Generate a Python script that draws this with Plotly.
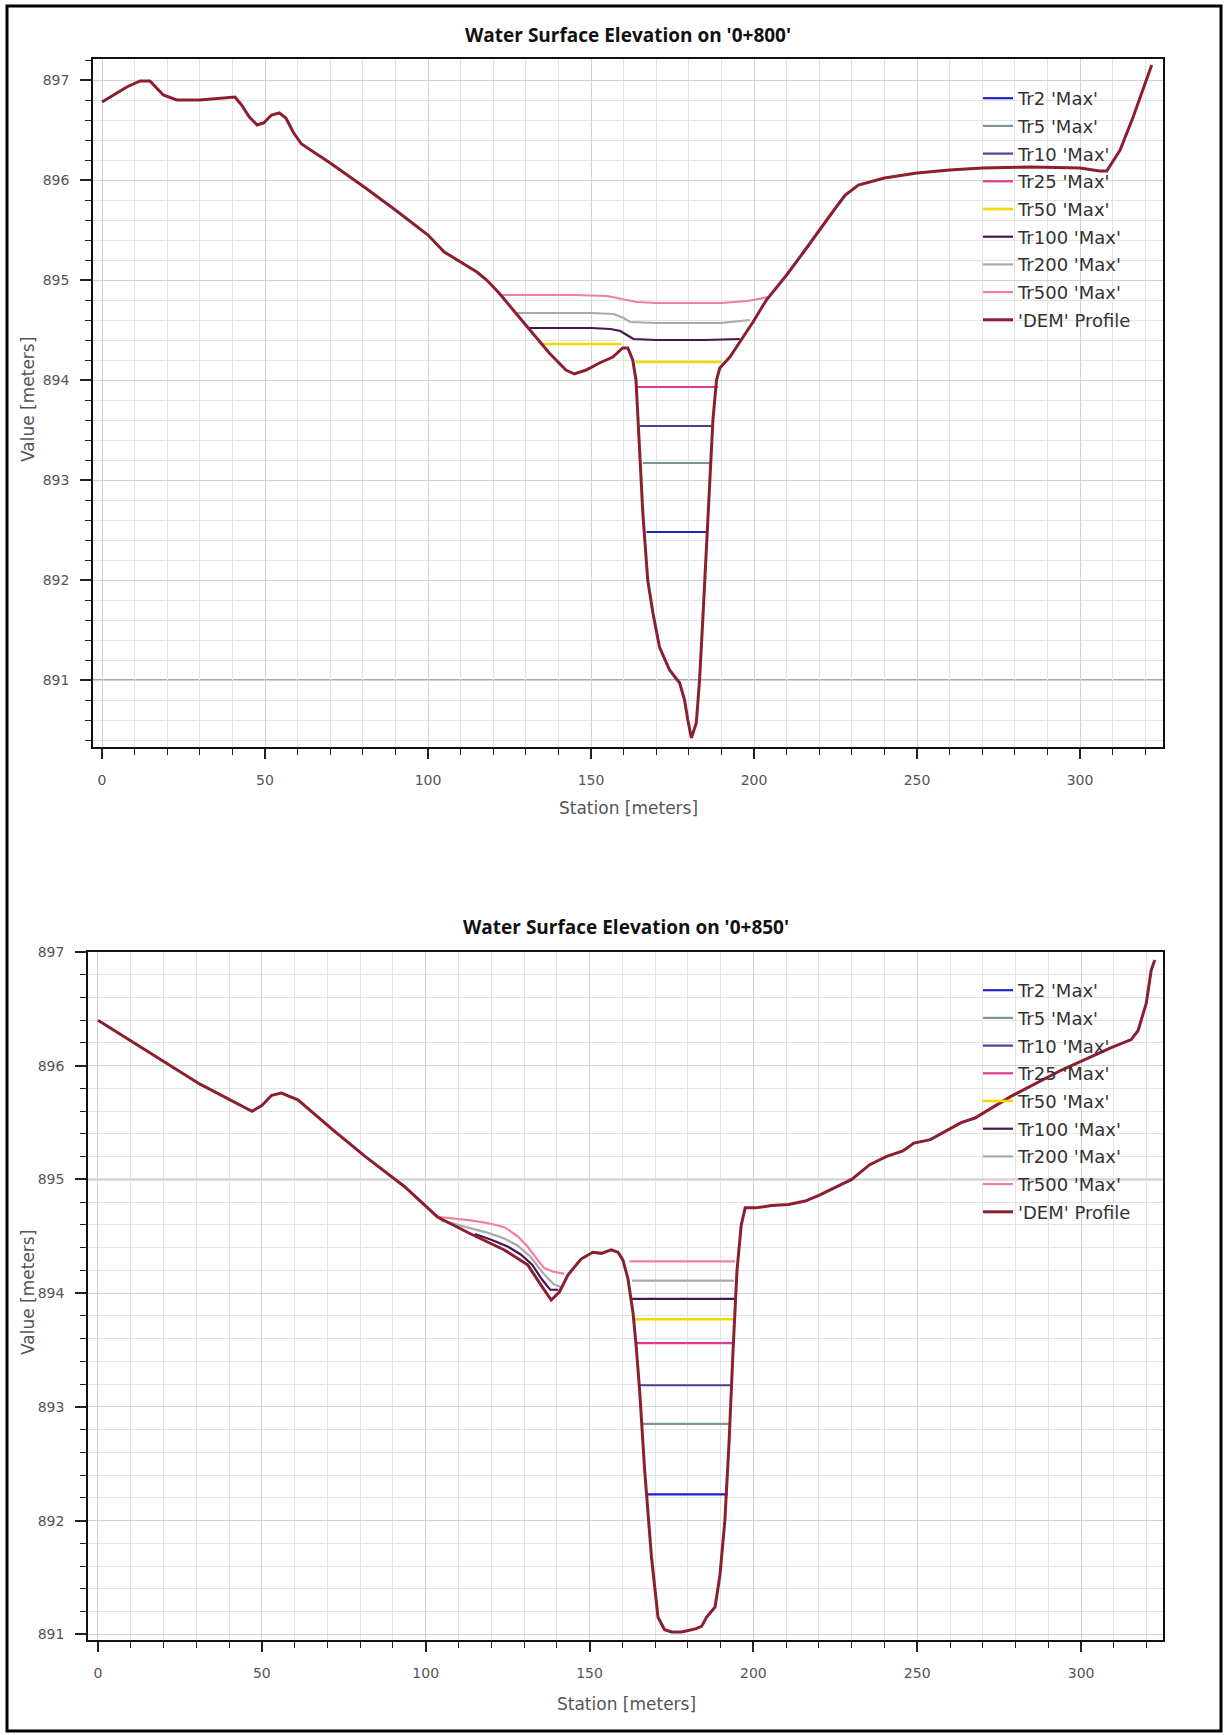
import plotly.graph_objects as go

W, H = 1224, 1735

# ---------------- data ----------------
SERIES = ["Tr2 'Max'", "Tr5 'Max'", "Tr10 'Max'", "Tr25 'Max'", "Tr50 'Max'",
          "Tr100 'Max'", "Tr200 'Max'", "Tr500 'Max'", "'DEM' Profile"]
COLORS = ["#1f22c4", "#7a949c", "#4d4190", "#dc3b8e", "#f2d800",
          "#4a1450", "#a9a9a9", "#f27ea3", "#8b1f2f"]
WIDTHS = [2.2, 2.2, 2.2, 2.2, 2.6, 2.2, 2.2, 2.2, 3]

# Section 0+800
TOP_DEM_S = [0, 4, 7.6, 11.7, 14.7, 18.8, 22.9, 30, 36.7, 40.8, 42.8, 45.2, 47.6, 49.6, 52, 54.4,
             56.4, 58.8, 61.2, 70, 80, 90, 100, 105, 110, 115, 118, 121.8, 126.9, 132, 137.2,
             142.3, 144.9, 148.5, 152.6, 156.7, 159.7, 161.3, 162.8, 163.8, 164.9, 165.9, 167.4,
             169, 171, 174.1, 177.2, 178.7, 179.7, 180.8, 182.3, 183.3, 184.4, 185.4, 186.4,
             187.4, 188.5, 189.5, 192.6, 195.6, 199.7, 203.8, 210, 215, 220, 225, 228, 232, 240,
             250, 260, 270, 285, 300, 306, 308.2, 312.3, 316.3, 322]
TOP_DEM_Z = [896.78, 896.86, 896.93, 896.99, 896.99, 896.85, 896.80, 896.80, 896.82, 896.83,
             896.75, 896.63, 896.55, 896.57, 896.65, 896.67, 896.62, 896.47, 896.36, 896.17,
             895.94, 895.70, 895.45, 895.28, 895.18, 895.08, 895.00, 894.87, 894.67, 894.47,
             894.27, 894.10, 894.06, 894.10, 894.17, 894.23, 894.32, 894.32, 894.20, 894.00,
             893.33, 892.67, 892.00, 891.67, 891.33, 891.10, 890.97, 890.80, 890.60, 890.42,
             890.57, 891.00, 891.67, 892.33, 893.00, 893.60, 894.00, 894.12, 894.23, 894.38,
             894.58, 894.80, 895.05, 895.27, 895.50, 895.72, 895.85, 895.95, 896.02, 896.07,
             896.10, 896.12, 896.13, 896.12, 896.09, 896.09, 896.30, 896.63, 897.15]

TOP_WSE_S = {
    "Tr2 'Max'": [167.0, 185.9],
    "Tr5 'Max'": [165.9, 186.4],
    "Tr10 'Max'": [164.9, 187.4],
    "Tr25 'Max'": [164.1, 189.0],
    "Tr50 'Max'": [135.0, 159.3, None, 163.8, 190.0],
    "Tr100 'Max'": [130.5, 150, 156, 159, 161.5, 163, 170, 185, 195.6],
    "Tr200 'Max'": [127.0, 150, 157, 160, 162, 170, 190, 198.7],
    "Tr500 'Max'": [122.3, 145, 155, 160, 164, 170, 190, 198, 204.4],
}
TOP_WSE_Z = {
    "Tr2 'Max'": [892.48, 892.48],
    "Tr5 'Max'": [893.17, 893.17],
    "Tr10 'Max'": [893.54, 893.54],
    "Tr25 'Max'": [893.93, 893.93],
    "Tr50 'Max'": [894.36, 894.36, None, 894.18, 894.18],
    "Tr100 'Max'": [894.52, 894.52, 894.51, 894.49, 894.44, 894.41, 894.40, 894.40, 894.41],
    "Tr200 'Max'": [894.67, 894.67, 894.66, 894.62, 894.58, 894.57, 894.57, 894.60],
    "Tr500 'Max'": [894.85, 894.85, 894.84, 894.81, 894.78, 894.77, 894.77, 894.79, 894.83],
}

# Section 0+850
BOT_DEM_S = [0, 31, 47, 50, 53, 56, 61, 71.5, 81.6, 93.4, 103.6, 113.8, 124, 131.1, 135.2, 138.3,
             140.8, 143.4, 147.4, 151, 153.6, 156.6, 158.7, 160.2, 161.7, 163.3, 164.3, 165.3,
             166.8, 168.9, 170.9, 172.9, 175, 178.1, 181.1, 182.5, 184.2, 185.7, 188.3, 189.8,
             191.3, 192.6, 193.8, 195.0, 196.3, 197.5, 200.5, 205.6, 210.7, 215.8, 220, 225, 230,
             235.5, 240.5, 245.6, 249, 254, 263.4, 267.6, 278.6, 293.9, 309.2, 315.3, 317.4,
             319.9, 321.4, 322.5]
BOT_DEM_Z = [896.40, 895.84, 895.60, 895.65, 895.74, 895.76, 895.70, 895.44, 895.20, 894.94,
             894.67, 894.52, 894.38, 894.25, 894.07, 893.94, 894.01, 894.16, 894.30, 894.36,
             894.35, 894.38, 894.36, 894.29, 894.13, 893.82, 893.51, 893.14, 892.45, 891.68,
             891.15, 891.04, 891.02, 891.02, 891.04, 891.05, 891.07, 891.15, 891.24, 891.52,
             892.00, 892.70, 893.50, 894.20, 894.60, 894.75, 894.75, 894.77, 894.78, 894.81,
             894.86, 894.93, 895.00, 895.13, 895.20, 895.25, 895.32, 895.35, 895.50, 895.54,
             895.73, 895.96, 896.16, 896.23, 896.31, 896.55, 896.84, 896.93]

BOT_WSE_S = {
    "Tr2 'Max'": [167.3, 192.2],
    "Tr5 'Max'": [166.3, 192.5],
    "Tr10 'Max'": [165.3, 193.3],
    "Tr25 'Max'": [164.3, 194.0],
    "Tr50 'Max'": [163.3, 194.6],
    "Tr100 'Max'": [115, 120, 125, 129, 132.5, 135.5, 138, 140.5, None, 162.6, 194.8],
    "Tr200 'Max'": [104.6, 112, 119, 124, 128, 132, 136, 139, 141.5, None, 163.0, 194.2],
    "Tr500 'Max'": [104, 113.8, 119.9, 124, 128.1, 131.1, 134.2, 136.2, 138.8, 142.3, None,
                    162.2, 194.4],
}
BOT_WSE_Z = {
    "Tr2 'Max'": [892.23, 892.23],
    "Tr5 'Max'": [892.85, 892.85],
    "Tr10 'Max'": [893.19, 893.19],
    "Tr25 'Max'": [893.56, 893.56],
    "Tr50 'Max'": [893.77, 893.77],
    "Tr100 'Max'": [894.52, 894.47, 894.41, 894.34, 894.25, 894.12, 894.03, 894.03, None,
                    893.95, 893.95],
    "Tr200 'Max'": [894.64, 894.58, 894.53, 894.48, 894.42, 894.32, 894.17, 894.08, 894.05,
                    None, 894.11, 894.11],
    "Tr500 'Max'": [894.67, 894.64, 894.61, 894.58, 894.50, 894.41, 894.29, 894.22, 894.19,
                    894.17, None, 894.28, 894.28],
}

TITLES = ["Water Surface Elevation on '0+800'", "Water Surface Elevation on '0+850'"]
X_TITLE = "Station [meters]"
Y_TITLE = "Value [meters]"
REF_LINES = [891, 895]   # darker horizontal grid lines in each panel

# ---------------- figure ----------------
FONT = "DejaVu Sans, Verdana, sans-serif"
TFONT = "Open Sans, Noto Sans, sans-serif"
fig = go.Figure()

panels = [
    dict(xa="x", ya="y", leg="legend", dem_s=TOP_DEM_S, dem_z=TOP_DEM_Z, ws=TOP_WSE_S, wz=TOP_WSE_Z, tag="top"),
    dict(xa="x2", ya="y2", leg="legend2", dem_s=BOT_DEM_S, dem_z=BOT_DEM_Z, ws=BOT_WSE_S, wz=BOT_WSE_Z, tag="bot"),
]
for p in panels:
    for name, col, w in zip(SERIES, COLORS, WIDTHS):
        if name == "'DEM' Profile":
            xs, zs = p["dem_s"], p["dem_z"]
        else:
            xs, zs = p["ws"][name], p["wz"][name]
        fig.add_trace(go.Scatter(
            x=xs, y=zs, mode="lines", name=name, xaxis=p["xa"], yaxis=p["ya"],
            legend=p["leg"], legendgroup=p["tag"] + name,
            line=dict(color=col, width=w), connectgaps=False, showlegend=True))

def px_x(v):
    return v / W

def px_y(v):
    return 1 - v / H

tickfont = dict(family=FONT, size=14, color="#555555")

def xaxis_cfg(d0, d1, r0, r1, anchor):
    return dict(domain=[px_x(d0), px_x(d1)], range=[r0, r1], anchor=anchor, automargin=False,
                tick0=0, dtick=50, ticks="outside", ticklen=10, tickwidth=1.5, tickcolor="#222",
                showgrid=True, gridcolor="#d2d2d2", gridwidth=1,
                minor=dict(dtick=10, tick0=0, ticks="outside", ticklen=6, tickwidth=1.2,
                           tickcolor="#222", showgrid=True, gridcolor="#e3e3e3"),
                showline=True, linecolor="#111", linewidth=1.5, mirror=True,
                zeroline=False, tickfont=tickfont, ticklabelstandoff=9, fixedrange=True)

def yaxis_cfg(d0, d1, r0, r1, anchor):
    return dict(domain=[px_y(d1), px_y(d0)], range=[r0, r1], anchor=anchor, automargin=False,
                tick0=891, dtick=1, ticks="outside", ticklen=11, tickwidth=1.5, tickcolor="#222",
                showgrid=True, gridcolor="#d2d2d2", gridwidth=1,
                minor=dict(dtick=0.2, tick0=891, ticks="outside", ticklen=6, tickwidth=1.2,
                           tickcolor="#222", showgrid=True, gridcolor="#e3e3e3"),
                showline=True, linecolor="#111", linewidth=1.5, mirror=True,
                zeroline=False, tickfont=tickfont, ticklabelstandoff=8, fixedrange=True)

legfont = dict(family=FONT, size=18, color="#333333")

fig.update_layout(
    width=W, height=H, margin=dict(l=0, r=0, t=0, b=0, pad=0, autoexpand=False),
    paper_bgcolor="white", plot_bgcolor="white", showlegend=True,
    xaxis=xaxis_cfg(93, 1163, -2.76, 325.46, "y"),
    yaxis=yaxis_cfg(59, 747, 890.33, 897.21, "x"),
    xaxis2=xaxis_cfg(88, 1163, -3.05, 325.0, "y2"),
    yaxis2=yaxis_cfg(952, 1640, 890.95, 897.0, "x2"),
    legend=dict(x=px_x(978), y=px_y(80), xanchor="left", yanchor="top",
                bgcolor="rgba(0,0,0,0)", font=legfont, tracegroupgap=1.3, itemwidth=30,
                traceorder="grouped"),
    legend2=dict(x=px_x(978), y=px_y(972), xanchor="left", yanchor="top",
                 bgcolor="rgba(0,0,0,0)", font=legfont, tracegroupgap=1.3, itemwidth=30,
                 traceorder="grouped"),
)

# panel titles and axis titles
ann = []
for title, ty, xc, yc, xt_y in [(TITLES[0], 35, 628, 400, 808), (TITLES[1], 927, 626, 1293, 1704)]:
    ann.append(dict(text="<b>" + title + "</b>", x=px_x(xc), y=px_y(ty), xref="paper", yref="paper",
                    xanchor="center", yanchor="middle", showarrow=False,
                    font=dict(family=TFONT, size=19, color="#111")))
    ann.append(dict(text=X_TITLE, x=px_x(xc), y=px_y(xt_y), xref="paper", yref="paper",
                    xanchor="center", yanchor="middle", showarrow=False,
                    font=dict(family=FONT, size=17, color="#555")))
    ann.append(dict(text=Y_TITLE, x=px_x(28), y=px_y(yc), xref="paper", yref="paper",
                    xanchor="center", yanchor="middle", showarrow=False, textangle=-90,
                    font=dict(family=FONT, size=17, color="#555")))
fig.update_layout(annotations=ann)

shapes = [
    dict(type="rect", xref="paper", yref="paper", x0=px_x(7), x1=px_x(1221), y0=px_y(1731), y1=px_y(6),
         line=dict(color="black", width=3), layer="above"),
    dict(type="line", xref="x domain", yref="y", x0=0, x1=1, y0=REF_LINES[0], y1=REF_LINES[0],
         line=dict(color="#8c8c8c", width=1.5), layer="below"),
    dict(type="line", xref="x2 domain", yref="y2", x0=0, x1=1, y0=REF_LINES[1], y1=REF_LINES[1],
         line=dict(color="#8c8c8c", width=1.5), layer="below"),
]
fig.update_layout(shapes=shapes)

fig.write_html("out.html", config={"displayModeBar": False},
               post_script="document.body.style.margin='0';document.body.style.overflow='hidden';")
